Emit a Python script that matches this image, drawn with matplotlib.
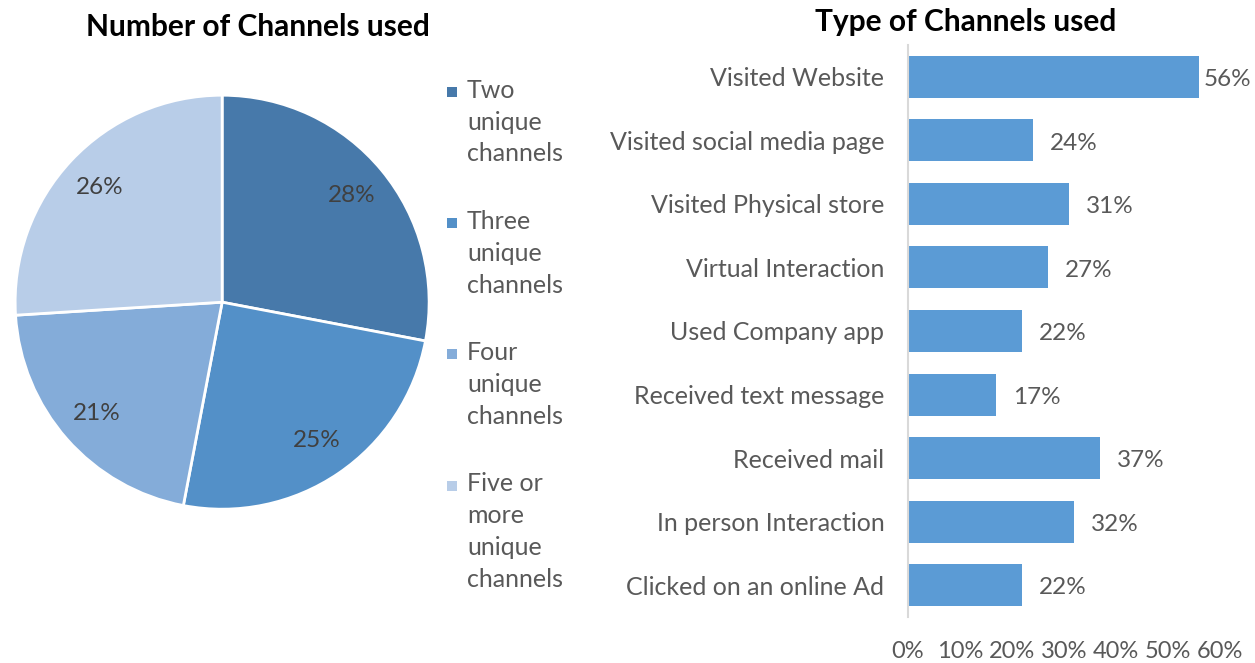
import matplotlib.pyplot as plt
from matplotlib.patches import Rectangle

# pie data: number of unique channels used
pie_labels = ["Two\nunique\nchannels", "Three\nunique\nchannels",
              "Four\nunique\nchannels", "Five or\nmore\nunique\nchannels"]
pie_values = [28, 25, 21, 26]
pie_colors = ["#4779aa", "#5390c8", "#84acd9", "#b8cde8"]

# bar data: type of channels used (share of respondents)
channels = ["Visited Website", "Visited social media page", "Visited Physical store",
            "Virtual Interaction", "Used Company app", "Received text message",
            "Received mail", "In person Interaction", "Clicked on an online Ad"]
shares = [0.56, 0.24, 0.31, 0.27, 0.22, 0.17, 0.37, 0.32, 0.22]
xticks = [0, 0.1, 0.2, 0.3, 0.4, 0.5, 0.6]

text_grey = "#595959"
plt.rcParams['font.family'] = ['Lato', 'DejaVu Sans']

fig = plt.figure(figsize=(12.55, 6.63), dpi=100)

# ---- pie ----
ax1 = fig.add_axes([0.012, 0.232, 0.33, 0.6244])
wedges, _, autotexts = ax1.pie(
    pie_values, colors=pie_colors, startangle=90, counterclock=False,
    autopct="%d%%", pctdistance=0.81,
    wedgeprops=dict(edgecolor="white", linewidth=2),
    textprops=dict(color="#404040", fontsize=17.5))
ax1.set_xlim(-1, 1)
ax1.set_ylim(-1, 1)
ax1.set_aspect("equal")
fig.text(258 / 1255, 1 - 27 / 663, "Number of Channels used", ha="center", va="center",
         fontsize=21.5, fontweight="bold", color="black")

# legend drawn by hand so the marker sits on the first line of each label
line_h = 32 / 663
y = 1 - 90 / 663
for lab, col in zip(pie_labels, pie_colors):
    fig.patches.append(Rectangle((447 / 1255, y - 7 / 663), 10 / 1255, 10 / 663,
                                 transform=fig.transFigure, facecolor=col,
                                 edgecolor="none"))
    parts = lab.split("\n")
    for i, part in enumerate(parts):
        fig.text(467 / 1255, y - i * line_h, part, ha="left", va="center",
                 fontsize=18, color=text_grey)
    y -= (len(parts) + 1.1) * line_h

# ---- horizontal bars ----
ax2 = fig.add_axes([908 / 1255, 46 / 663, 312 / 1255, 572 / 663])
pos = list(range(len(channels)))
bars = ax2.barh(pos, shares, height=0.66, color="#5b9bd5")
ax2.set_ylim(len(channels) - 0.5, -0.5)
ax2.set_xlim(0, 0.6)
ax2.set_yticks(pos)
ax2.set_yticklabels(channels, fontsize=18, color=text_grey)
ax2.set_xticks(xticks)
ax2.set_xticklabels([f"{int(round(t * 100))}%" for t in xticks], fontsize=17,
                    color=text_grey)
ax2.tick_params(axis="y", length=0, pad=17)
ax2.tick_params(axis="x", length=0, pad=17)
for side in ["top", "right", "bottom"]:
    ax2.spines[side].set_visible(False)
ax2.spines["left"].set_color("#d9d9d9")
ax2.spines["left"].set_linewidth(1.5)

for b, v in zip(bars, shares):
    pad = 3 if v > 0.5 else 12
    ax2.annotate(f"{int(round(v * 100))}%", (v, b.get_y() + b.get_height() / 2),
                 xytext=(pad, -2), textcoords="offset points", va="center",
                 ha="left", fontsize=17.5, color=text_grey)

fig.text(966 / 1255, 1 - 22 / 663, "Type of Channels used", ha="center", va="center",
         fontsize=21.5, fontweight="bold", color="black")

fig.savefig("out.png", dpi=100)
